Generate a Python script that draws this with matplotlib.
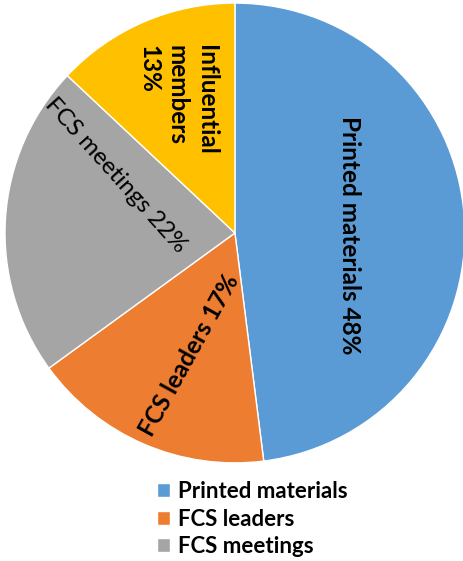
import matplotlib.pyplot as plt

# data
categories = ['Printed materials', 'FCS leaders', 'FCS meetings', 'Influential members']
shares = [48, 17, 22, 13]
colors = ['#5B9BD5', '#ED7D31', '#A5A5A5', '#FFC000']

plt.rcParams['font.family'] = ['Lato', 'DejaVu Sans']

fig = plt.figure(figsize=(4.64, 5.61), dpi=100)
ax = fig.add_axes([0.0108, 0.1747, 0.991, 0.820])

wedges, _ = ax.pie(shares, colors=colors, startangle=90, counterclock=False,
                   radius=1.0, wedgeprops={'edgecolor': 'white', 'linewidth': 1})
ax.set_xlim(-1, 1)
ax.set_ylim(-1, 1)
ax.set_aspect('equal')

# label placement (x, y, rotation, weight) by hand, like the original
label_style = [
    (0.50, -0.01, -90, 'bold', f'{categories[0]} {shares[0]}%'),
    (-0.20, -0.53, 61, 'bold', f'{categories[1]} {shares[1]}%'),
    (-0.52, 0.25, -48, 'normal', f'{categories[2]} {shares[2]}%'),
    (-0.25, 0.58, -90, 'bold', f'Influential\nmembers\n{shares[3]}%'),
]
for x, y, rot, wt, txt in label_style:
    ax.text(x, y, txt, rotation=rot, ha='center', va='center', fontsize=17.5,
            fontweight=wt, multialignment='left', rotation_mode='anchor',
            linespacing=1.3)

leg = fig.legend(wedges[:3], categories[:3], loc='upper left',
                 bbox_to_anchor=(0.305, 0.17), frameon=False,
                 handlelength=0.6, handleheight=0.6, handletextpad=0.35,
                 labelspacing=0.29, borderpad=0.2,
                 prop={'size': 16, 'weight': 'bold'})

fig.savefig('out.png', dpi=100)
